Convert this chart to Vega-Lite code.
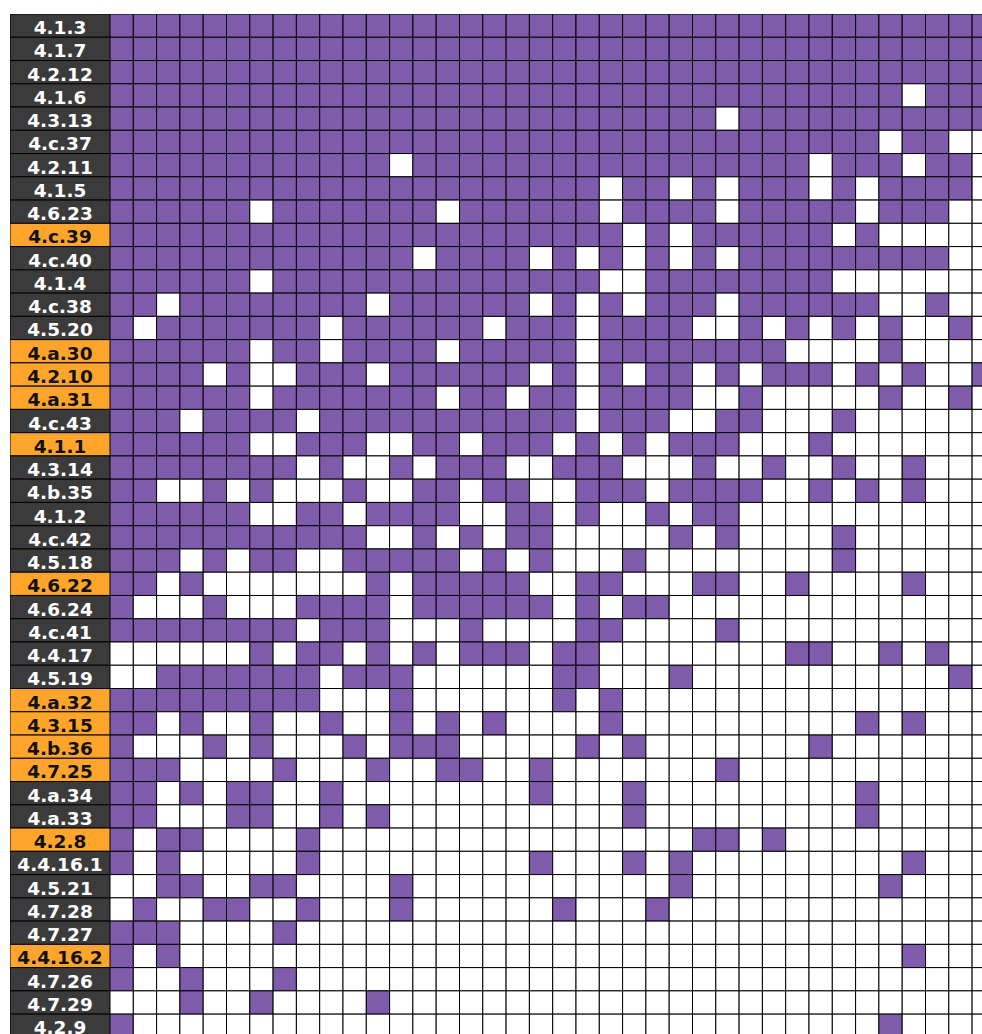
{
"$schema":"https://vega.github.io/schema/vega-lite/v6.json",
"autosize":{"type":"pad"},
"padding":{"left":10,"top":14,"right":0,"bottom":0},
"background":"white",
"spacing":0,
"config":{"view":{"stroke":null},"concat":{"spacing":0}},
"resolve":{"scale":{"fill":"independent","color":"independent","y":"independent"}},
"datasets":{
"labels":[
{"r":0,"t":"4.1.3","g":"d"},{"r":1,"t":"4.1.7","g":"d"},{"r":2,"t":"4.2.12","g":"d"},{"r":3,"t":"4.1.6","g":"d"},{"r":4,"t":"4.3.13","g":"d"},{"r":5,"t":"4.c.37","g":"d"},{"r":6,"t":"4.2.11","g":"d"},{"r":7,"t":"4.1.5","g":"d"},{"r":8,"t":"4.6.23","g":"d"},{"r":9,"t":"4.c.39","g":"o"},
{"r":10,"t":"4.c.40","g":"d"},{"r":11,"t":"4.1.4","g":"d"},{"r":12,"t":"4.c.38","g":"d"},{"r":13,"t":"4.5.20","g":"d"},{"r":14,"t":"4.a.30","g":"o"},{"r":15,"t":"4.2.10","g":"o"},{"r":16,"t":"4.a.31","g":"o"},{"r":17,"t":"4.c.43","g":"d"},{"r":18,"t":"4.1.1","g":"o"},{"r":19,"t":"4.3.14","g":"d"},
{"r":20,"t":"4.b.35","g":"d"},{"r":21,"t":"4.1.2","g":"d"},{"r":22,"t":"4.c.42","g":"d"},{"r":23,"t":"4.5.18","g":"d"},{"r":24,"t":"4.6.22","g":"o"},{"r":25,"t":"4.6.24","g":"d"},{"r":26,"t":"4.c.41","g":"d"},{"r":27,"t":"4.4.17","g":"d"},{"r":28,"t":"4.5.19","g":"d"},{"r":29,"t":"4.a.32","g":"o"},
{"r":30,"t":"4.3.15","g":"o"},{"r":31,"t":"4.b.36","g":"o"},{"r":32,"t":"4.7.25","g":"o"},{"r":33,"t":"4.a.34","g":"d"},{"r":34,"t":"4.a.33","g":"d"},{"r":35,"t":"4.2.8","g":"o"},{"r":36,"t":"4.4.16.1","g":"d"},{"r":37,"t":"4.5.21","g":"d"},{"r":38,"t":"4.7.28","g":"d"},{"r":39,"t":"4.7.27","g":"d"},
{"r":40,"t":"4.4.16.2","g":"o"},{"r":41,"t":"4.7.26","g":"d"},{"r":42,"t":"4.7.29","g":"d"},{"r":43,"t":"4.2.9","g":"d"}
],
"cells":[
{"r":0,"c":0,"v":1},{"r":0,"c":1,"v":1},{"r":0,"c":2,"v":1},{"r":0,"c":3,"v":1},{"r":0,"c":4,"v":1},{"r":0,"c":5,"v":1},{"r":0,"c":6,"v":1},{"r":0,"c":7,"v":1},{"r":0,"c":8,"v":1},{"r":0,"c":9,"v":1},{"r":0,"c":10,"v":1},{"r":0,"c":11,"v":1},{"r":0,"c":12,"v":1},{"r":0,"c":13,"v":1},{"r":0,"c":14,"v":1},{"r":0,"c":15,"v":1},{"r":0,"c":16,"v":1},{"r":0,"c":17,"v":1},{"r":0,"c":18,"v":1},{"r":0,"c":19,"v":1},{"r":0,"c":20,"v":1},{"r":0,"c":21,"v":1},{"r":0,"c":22,"v":1},{"r":0,"c":23,"v":1},{"r":0,"c":24,"v":1},{"r":0,"c":25,"v":1},{"r":0,"c":26,"v":1},{"r":0,"c":27,"v":1},{"r":0,"c":28,"v":1},{"r":0,"c":29,"v":1},{"r":0,"c":30,"v":1},{"r":0,"c":31,"v":1},{"r":0,"c":32,"v":1},{"r":0,"c":33,"v":1},{"r":0,"c":34,"v":1},{"r":0,"c":35,"v":1},{"r":0,"c":36,"v":1},{"r":0,"c":37,"v":1},
{"r":1,"c":0,"v":1},{"r":1,"c":1,"v":1},{"r":1,"c":2,"v":1},{"r":1,"c":3,"v":1},{"r":1,"c":4,"v":1},{"r":1,"c":5,"v":1},{"r":1,"c":6,"v":1},{"r":1,"c":7,"v":1},{"r":1,"c":8,"v":1},{"r":1,"c":9,"v":1},{"r":1,"c":10,"v":1},{"r":1,"c":11,"v":1},{"r":1,"c":12,"v":1},{"r":1,"c":13,"v":1},{"r":1,"c":14,"v":1},{"r":1,"c":15,"v":1},{"r":1,"c":16,"v":1},{"r":1,"c":17,"v":1},{"r":1,"c":18,"v":1},{"r":1,"c":19,"v":1},{"r":1,"c":20,"v":1},{"r":1,"c":21,"v":1},{"r":1,"c":22,"v":1},{"r":1,"c":23,"v":1},{"r":1,"c":24,"v":1},{"r":1,"c":25,"v":1},{"r":1,"c":26,"v":1},{"r":1,"c":27,"v":1},{"r":1,"c":28,"v":1},{"r":1,"c":29,"v":1},{"r":1,"c":30,"v":1},{"r":1,"c":31,"v":1},{"r":1,"c":32,"v":1},{"r":1,"c":33,"v":1},{"r":1,"c":34,"v":1},{"r":1,"c":35,"v":1},{"r":1,"c":36,"v":1},{"r":1,"c":37,"v":1},
{"r":2,"c":0,"v":1},{"r":2,"c":1,"v":1},{"r":2,"c":2,"v":1},{"r":2,"c":3,"v":1},{"r":2,"c":4,"v":1},{"r":2,"c":5,"v":1},{"r":2,"c":6,"v":1},{"r":2,"c":7,"v":1},{"r":2,"c":8,"v":1},{"r":2,"c":9,"v":1},{"r":2,"c":10,"v":1},{"r":2,"c":11,"v":1},{"r":2,"c":12,"v":1},{"r":2,"c":13,"v":1},{"r":2,"c":14,"v":1},{"r":2,"c":15,"v":1},{"r":2,"c":16,"v":1},{"r":2,"c":17,"v":1},{"r":2,"c":18,"v":1},{"r":2,"c":19,"v":1},{"r":2,"c":20,"v":1},{"r":2,"c":21,"v":1},{"r":2,"c":22,"v":1},{"r":2,"c":23,"v":1},{"r":2,"c":24,"v":1},{"r":2,"c":25,"v":1},{"r":2,"c":26,"v":1},{"r":2,"c":27,"v":1},{"r":2,"c":28,"v":1},{"r":2,"c":29,"v":1},{"r":2,"c":30,"v":1},{"r":2,"c":31,"v":1},{"r":2,"c":32,"v":1},{"r":2,"c":33,"v":1},{"r":2,"c":34,"v":1},{"r":2,"c":35,"v":1},{"r":2,"c":36,"v":1},{"r":2,"c":37,"v":1},
{"r":3,"c":0,"v":1},{"r":3,"c":1,"v":1},{"r":3,"c":2,"v":1},{"r":3,"c":3,"v":1},{"r":3,"c":4,"v":1},{"r":3,"c":5,"v":1},{"r":3,"c":6,"v":1},{"r":3,"c":7,"v":1},{"r":3,"c":8,"v":1},{"r":3,"c":9,"v":1},{"r":3,"c":10,"v":1},{"r":3,"c":11,"v":1},{"r":3,"c":12,"v":1},{"r":3,"c":13,"v":1},{"r":3,"c":14,"v":1},{"r":3,"c":15,"v":1},{"r":3,"c":16,"v":1},{"r":3,"c":17,"v":1},{"r":3,"c":18,"v":1},{"r":3,"c":19,"v":1},{"r":3,"c":20,"v":1},{"r":3,"c":21,"v":1},{"r":3,"c":22,"v":1},{"r":3,"c":23,"v":1},{"r":3,"c":24,"v":1},{"r":3,"c":25,"v":1},{"r":3,"c":26,"v":1},{"r":3,"c":27,"v":1},{"r":3,"c":28,"v":1},{"r":3,"c":29,"v":1},{"r":3,"c":30,"v":1},{"r":3,"c":31,"v":1},{"r":3,"c":32,"v":1},{"r":3,"c":33,"v":1},{"r":3,"c":34,"v":0},{"r":3,"c":35,"v":1},{"r":3,"c":36,"v":1},{"r":3,"c":37,"v":1},
{"r":4,"c":0,"v":1},{"r":4,"c":1,"v":1},{"r":4,"c":2,"v":1},{"r":4,"c":3,"v":1},{"r":4,"c":4,"v":1},{"r":4,"c":5,"v":1},{"r":4,"c":6,"v":1},{"r":4,"c":7,"v":1},{"r":4,"c":8,"v":1},{"r":4,"c":9,"v":1},{"r":4,"c":10,"v":1},{"r":4,"c":11,"v":1},{"r":4,"c":12,"v":1},{"r":4,"c":13,"v":1},{"r":4,"c":14,"v":1},{"r":4,"c":15,"v":1},{"r":4,"c":16,"v":1},{"r":4,"c":17,"v":1},{"r":4,"c":18,"v":1},{"r":4,"c":19,"v":1},{"r":4,"c":20,"v":1},{"r":4,"c":21,"v":1},{"r":4,"c":22,"v":1},{"r":4,"c":23,"v":1},{"r":4,"c":24,"v":1},{"r":4,"c":25,"v":1},{"r":4,"c":26,"v":0},{"r":4,"c":27,"v":1},{"r":4,"c":28,"v":1},{"r":4,"c":29,"v":1},{"r":4,"c":30,"v":1},{"r":4,"c":31,"v":1},{"r":4,"c":32,"v":1},{"r":4,"c":33,"v":1},{"r":4,"c":34,"v":1},{"r":4,"c":35,"v":1},{"r":4,"c":36,"v":1},{"r":4,"c":37,"v":1},
{"r":5,"c":0,"v":1},{"r":5,"c":1,"v":1},{"r":5,"c":2,"v":1},{"r":5,"c":3,"v":1},{"r":5,"c":4,"v":1},{"r":5,"c":5,"v":1},{"r":5,"c":6,"v":1},{"r":5,"c":7,"v":1},{"r":5,"c":8,"v":1},{"r":5,"c":9,"v":1},{"r":5,"c":10,"v":1},{"r":5,"c":11,"v":1},{"r":5,"c":12,"v":1},{"r":5,"c":13,"v":1},{"r":5,"c":14,"v":1},{"r":5,"c":15,"v":1},{"r":5,"c":16,"v":1},{"r":5,"c":17,"v":1},{"r":5,"c":18,"v":1},{"r":5,"c":19,"v":1},{"r":5,"c":20,"v":1},{"r":5,"c":21,"v":1},{"r":5,"c":22,"v":1},{"r":5,"c":23,"v":1},{"r":5,"c":24,"v":1},{"r":5,"c":25,"v":1},{"r":5,"c":26,"v":1},{"r":5,"c":27,"v":1},{"r":5,"c":28,"v":1},{"r":5,"c":29,"v":1},{"r":5,"c":30,"v":1},{"r":5,"c":31,"v":1},{"r":5,"c":32,"v":1},{"r":5,"c":33,"v":0},{"r":5,"c":34,"v":1},{"r":5,"c":35,"v":1},{"r":5,"c":36,"v":0},{"r":5,"c":37,"v":0},
{"r":6,"c":0,"v":1},{"r":6,"c":1,"v":1},{"r":6,"c":2,"v":1},{"r":6,"c":3,"v":1},{"r":6,"c":4,"v":1},{"r":6,"c":5,"v":1},{"r":6,"c":6,"v":1},{"r":6,"c":7,"v":1},{"r":6,"c":8,"v":1},{"r":6,"c":9,"v":1},{"r":6,"c":10,"v":1},{"r":6,"c":11,"v":1},{"r":6,"c":12,"v":0},{"r":6,"c":13,"v":1},{"r":6,"c":14,"v":1},{"r":6,"c":15,"v":1},{"r":6,"c":16,"v":1},{"r":6,"c":17,"v":1},{"r":6,"c":18,"v":1},{"r":6,"c":19,"v":1},{"r":6,"c":20,"v":1},{"r":6,"c":21,"v":1},{"r":6,"c":22,"v":1},{"r":6,"c":23,"v":1},{"r":6,"c":24,"v":1},{"r":6,"c":25,"v":1},{"r":6,"c":26,"v":1},{"r":6,"c":27,"v":1},{"r":6,"c":28,"v":1},{"r":6,"c":29,"v":1},{"r":6,"c":30,"v":0},{"r":6,"c":31,"v":1},{"r":6,"c":32,"v":1},{"r":6,"c":33,"v":1},{"r":6,"c":34,"v":0},{"r":6,"c":35,"v":1},{"r":6,"c":36,"v":1},{"r":6,"c":37,"v":0},
{"r":7,"c":0,"v":1},{"r":7,"c":1,"v":1},{"r":7,"c":2,"v":1},{"r":7,"c":3,"v":1},{"r":7,"c":4,"v":1},{"r":7,"c":5,"v":1},{"r":7,"c":6,"v":1},{"r":7,"c":7,"v":1},{"r":7,"c":8,"v":1},{"r":7,"c":9,"v":1},{"r":7,"c":10,"v":1},{"r":7,"c":11,"v":1},{"r":7,"c":12,"v":1},{"r":7,"c":13,"v":1},{"r":7,"c":14,"v":1},{"r":7,"c":15,"v":1},{"r":7,"c":16,"v":1},{"r":7,"c":17,"v":1},{"r":7,"c":18,"v":1},{"r":7,"c":19,"v":1},{"r":7,"c":20,"v":1},{"r":7,"c":21,"v":0},{"r":7,"c":22,"v":1},{"r":7,"c":23,"v":1},{"r":7,"c":24,"v":0},{"r":7,"c":25,"v":1},{"r":7,"c":26,"v":0},{"r":7,"c":27,"v":1},{"r":7,"c":28,"v":1},{"r":7,"c":29,"v":1},{"r":7,"c":30,"v":0},{"r":7,"c":31,"v":1},{"r":7,"c":32,"v":0},{"r":7,"c":33,"v":1},{"r":7,"c":34,"v":1},{"r":7,"c":35,"v":1},{"r":7,"c":36,"v":1},{"r":7,"c":37,"v":0},
{"r":8,"c":0,"v":1},{"r":8,"c":1,"v":1},{"r":8,"c":2,"v":1},{"r":8,"c":3,"v":1},{"r":8,"c":4,"v":1},{"r":8,"c":5,"v":1},{"r":8,"c":6,"v":0},{"r":8,"c":7,"v":1},{"r":8,"c":8,"v":1},{"r":8,"c":9,"v":1},{"r":8,"c":10,"v":1},{"r":8,"c":11,"v":1},{"r":8,"c":12,"v":1},{"r":8,"c":13,"v":1},{"r":8,"c":14,"v":0},{"r":8,"c":15,"v":1},{"r":8,"c":16,"v":1},{"r":8,"c":17,"v":1},{"r":8,"c":18,"v":1},{"r":8,"c":19,"v":1},{"r":8,"c":20,"v":1},{"r":8,"c":21,"v":0},{"r":8,"c":22,"v":1},{"r":8,"c":23,"v":1},{"r":8,"c":24,"v":1},{"r":8,"c":25,"v":1},{"r":8,"c":26,"v":0},{"r":8,"c":27,"v":1},{"r":8,"c":28,"v":1},{"r":8,"c":29,"v":1},{"r":8,"c":30,"v":1},{"r":8,"c":31,"v":1},{"r":8,"c":32,"v":0},{"r":8,"c":33,"v":1},{"r":8,"c":34,"v":1},{"r":8,"c":35,"v":1},{"r":8,"c":36,"v":0},{"r":8,"c":37,"v":0},
{"r":9,"c":0,"v":1},{"r":9,"c":1,"v":1},{"r":9,"c":2,"v":1},{"r":9,"c":3,"v":1},{"r":9,"c":4,"v":1},{"r":9,"c":5,"v":1},{"r":9,"c":6,"v":1},{"r":9,"c":7,"v":1},{"r":9,"c":8,"v":1},{"r":9,"c":9,"v":1},{"r":9,"c":10,"v":1},{"r":9,"c":11,"v":1},{"r":9,"c":12,"v":1},{"r":9,"c":13,"v":1},{"r":9,"c":14,"v":1},{"r":9,"c":15,"v":1},{"r":9,"c":16,"v":1},{"r":9,"c":17,"v":1},{"r":9,"c":18,"v":1},{"r":9,"c":19,"v":1},{"r":9,"c":20,"v":1},{"r":9,"c":21,"v":1},{"r":9,"c":22,"v":0},{"r":9,"c":23,"v":1},{"r":9,"c":24,"v":0},{"r":9,"c":25,"v":1},{"r":9,"c":26,"v":1},{"r":9,"c":27,"v":1},{"r":9,"c":28,"v":1},{"r":9,"c":29,"v":1},{"r":9,"c":30,"v":1},{"r":9,"c":31,"v":0},{"r":9,"c":32,"v":1},{"r":9,"c":33,"v":0},{"r":9,"c":34,"v":0},{"r":9,"c":35,"v":0},{"r":9,"c":36,"v":0},{"r":9,"c":37,"v":0},
{"r":10,"c":0,"v":1},{"r":10,"c":1,"v":1},{"r":10,"c":2,"v":1},{"r":10,"c":3,"v":1},{"r":10,"c":4,"v":1},{"r":10,"c":5,"v":1},{"r":10,"c":6,"v":1},{"r":10,"c":7,"v":1},{"r":10,"c":8,"v":1},{"r":10,"c":9,"v":1},{"r":10,"c":10,"v":1},{"r":10,"c":11,"v":1},{"r":10,"c":12,"v":1},{"r":10,"c":13,"v":0},{"r":10,"c":14,"v":1},{"r":10,"c":15,"v":1},{"r":10,"c":16,"v":1},{"r":10,"c":17,"v":1},{"r":10,"c":18,"v":0},{"r":10,"c":19,"v":1},{"r":10,"c":20,"v":0},{"r":10,"c":21,"v":1},{"r":10,"c":22,"v":0},{"r":10,"c":23,"v":1},{"r":10,"c":24,"v":0},{"r":10,"c":25,"v":1},{"r":10,"c":26,"v":0},{"r":10,"c":27,"v":1},{"r":10,"c":28,"v":1},{"r":10,"c":29,"v":1},{"r":10,"c":30,"v":1},{"r":10,"c":31,"v":1},{"r":10,"c":32,"v":1},{"r":10,"c":33,"v":1},{"r":10,"c":34,"v":1},{"r":10,"c":35,"v":1},{"r":10,"c":36,"v":0},{"r":10,"c":37,"v":0},
{"r":11,"c":0,"v":1},{"r":11,"c":1,"v":1},{"r":11,"c":2,"v":1},{"r":11,"c":3,"v":1},{"r":11,"c":4,"v":1},{"r":11,"c":5,"v":1},{"r":11,"c":6,"v":0},{"r":11,"c":7,"v":1},{"r":11,"c":8,"v":1},{"r":11,"c":9,"v":1},{"r":11,"c":10,"v":1},{"r":11,"c":11,"v":1},{"r":11,"c":12,"v":1},{"r":11,"c":13,"v":1},{"r":11,"c":14,"v":1},{"r":11,"c":15,"v":1},{"r":11,"c":16,"v":1},{"r":11,"c":17,"v":1},{"r":11,"c":18,"v":1},{"r":11,"c":19,"v":1},{"r":11,"c":20,"v":1},{"r":11,"c":21,"v":0},{"r":11,"c":22,"v":0},{"r":11,"c":23,"v":1},{"r":11,"c":24,"v":1},{"r":11,"c":25,"v":1},{"r":11,"c":26,"v":1},{"r":11,"c":27,"v":1},{"r":11,"c":28,"v":1},{"r":11,"c":29,"v":1},{"r":11,"c":30,"v":1},{"r":11,"c":31,"v":0},{"r":11,"c":32,"v":0},{"r":11,"c":33,"v":0},{"r":11,"c":34,"v":0},{"r":11,"c":35,"v":0},{"r":11,"c":36,"v":0},{"r":11,"c":37,"v":0},
{"r":12,"c":0,"v":1},{"r":12,"c":1,"v":1},{"r":12,"c":2,"v":0},{"r":12,"c":3,"v":1},{"r":12,"c":4,"v":1},{"r":12,"c":5,"v":1},{"r":12,"c":6,"v":1},{"r":12,"c":7,"v":1},{"r":12,"c":8,"v":1},{"r":12,"c":9,"v":1},{"r":12,"c":10,"v":1},{"r":12,"c":11,"v":0},{"r":12,"c":12,"v":1},{"r":12,"c":13,"v":1},{"r":12,"c":14,"v":1},{"r":12,"c":15,"v":1},{"r":12,"c":16,"v":1},{"r":12,"c":17,"v":1},{"r":12,"c":18,"v":0},{"r":12,"c":19,"v":1},{"r":12,"c":20,"v":0},{"r":12,"c":21,"v":1},{"r":12,"c":22,"v":0},{"r":12,"c":23,"v":1},{"r":12,"c":24,"v":1},{"r":12,"c":25,"v":1},{"r":12,"c":26,"v":0},{"r":12,"c":27,"v":1},{"r":12,"c":28,"v":1},{"r":12,"c":29,"v":1},{"r":12,"c":30,"v":1},{"r":12,"c":31,"v":1},{"r":12,"c":32,"v":1},{"r":12,"c":33,"v":0},{"r":12,"c":34,"v":0},{"r":12,"c":35,"v":1},{"r":12,"c":36,"v":0},{"r":12,"c":37,"v":0},
{"r":13,"c":0,"v":1},{"r":13,"c":1,"v":0},{"r":13,"c":2,"v":1},{"r":13,"c":3,"v":1},{"r":13,"c":4,"v":1},{"r":13,"c":5,"v":1},{"r":13,"c":6,"v":1},{"r":13,"c":7,"v":1},{"r":13,"c":8,"v":1},{"r":13,"c":9,"v":0},{"r":13,"c":10,"v":1},{"r":13,"c":11,"v":1},{"r":13,"c":12,"v":1},{"r":13,"c":13,"v":1},{"r":13,"c":14,"v":1},{"r":13,"c":15,"v":1},{"r":13,"c":16,"v":0},{"r":13,"c":17,"v":1},{"r":13,"c":18,"v":1},{"r":13,"c":19,"v":1},{"r":13,"c":20,"v":0},{"r":13,"c":21,"v":1},{"r":13,"c":22,"v":1},{"r":13,"c":23,"v":1},{"r":13,"c":24,"v":1},{"r":13,"c":25,"v":0},{"r":13,"c":26,"v":0},{"r":13,"c":27,"v":1},{"r":13,"c":28,"v":0},{"r":13,"c":29,"v":1},{"r":13,"c":30,"v":0},{"r":13,"c":31,"v":1},{"r":13,"c":32,"v":0},{"r":13,"c":33,"v":1},{"r":13,"c":34,"v":0},{"r":13,"c":35,"v":0},{"r":13,"c":36,"v":1},{"r":13,"c":37,"v":0},
{"r":14,"c":0,"v":1},{"r":14,"c":1,"v":1},{"r":14,"c":2,"v":1},{"r":14,"c":3,"v":1},{"r":14,"c":4,"v":1},{"r":14,"c":5,"v":1},{"r":14,"c":6,"v":0},{"r":14,"c":7,"v":1},{"r":14,"c":8,"v":1},{"r":14,"c":9,"v":0},{"r":14,"c":10,"v":1},{"r":14,"c":11,"v":1},{"r":14,"c":12,"v":1},{"r":14,"c":13,"v":1},{"r":14,"c":14,"v":0},{"r":14,"c":15,"v":1},{"r":14,"c":16,"v":1},{"r":14,"c":17,"v":1},{"r":14,"c":18,"v":1},{"r":14,"c":19,"v":1},{"r":14,"c":20,"v":0},{"r":14,"c":21,"v":1},{"r":14,"c":22,"v":1},{"r":14,"c":23,"v":1},{"r":14,"c":24,"v":1},{"r":14,"c":25,"v":1},{"r":14,"c":26,"v":1},{"r":14,"c":27,"v":1},{"r":14,"c":28,"v":1},{"r":14,"c":29,"v":0},{"r":14,"c":30,"v":0},{"r":14,"c":31,"v":0},{"r":14,"c":32,"v":0},{"r":14,"c":33,"v":1},{"r":14,"c":34,"v":0},{"r":14,"c":35,"v":0},{"r":14,"c":36,"v":0},{"r":14,"c":37,"v":0},
{"r":15,"c":0,"v":1},{"r":15,"c":1,"v":1},{"r":15,"c":2,"v":1},{"r":15,"c":3,"v":1},{"r":15,"c":4,"v":0},{"r":15,"c":5,"v":1},{"r":15,"c":6,"v":0},{"r":15,"c":7,"v":0},{"r":15,"c":8,"v":1},{"r":15,"c":9,"v":1},{"r":15,"c":10,"v":1},{"r":15,"c":11,"v":0},{"r":15,"c":12,"v":1},{"r":15,"c":13,"v":1},{"r":15,"c":14,"v":1},{"r":15,"c":15,"v":1},{"r":15,"c":16,"v":1},{"r":15,"c":17,"v":1},{"r":15,"c":18,"v":0},{"r":15,"c":19,"v":1},{"r":15,"c":20,"v":0},{"r":15,"c":21,"v":1},{"r":15,"c":22,"v":0},{"r":15,"c":23,"v":1},{"r":15,"c":24,"v":1},{"r":15,"c":25,"v":0},{"r":15,"c":26,"v":1},{"r":15,"c":27,"v":0},{"r":15,"c":28,"v":1},{"r":15,"c":29,"v":1},{"r":15,"c":30,"v":1},{"r":15,"c":31,"v":0},{"r":15,"c":32,"v":1},{"r":15,"c":33,"v":0},{"r":15,"c":34,"v":1},{"r":15,"c":35,"v":0},{"r":15,"c":36,"v":0},{"r":15,"c":37,"v":1},
{"r":16,"c":0,"v":1},{"r":16,"c":1,"v":1},{"r":16,"c":2,"v":1},{"r":16,"c":3,"v":1},{"r":16,"c":4,"v":1},{"r":16,"c":5,"v":1},{"r":16,"c":6,"v":0},{"r":16,"c":7,"v":1},{"r":16,"c":8,"v":1},{"r":16,"c":9,"v":1},{"r":16,"c":10,"v":1},{"r":16,"c":11,"v":1},{"r":16,"c":12,"v":1},{"r":16,"c":13,"v":1},{"r":16,"c":14,"v":0},{"r":16,"c":15,"v":1},{"r":16,"c":16,"v":1},{"r":16,"c":17,"v":0},{"r":16,"c":18,"v":1},{"r":16,"c":19,"v":1},{"r":16,"c":20,"v":0},{"r":16,"c":21,"v":1},{"r":16,"c":22,"v":1},{"r":16,"c":23,"v":1},{"r":16,"c":24,"v":1},{"r":16,"c":25,"v":0},{"r":16,"c":26,"v":0},{"r":16,"c":27,"v":1},{"r":16,"c":28,"v":0},{"r":16,"c":29,"v":0},{"r":16,"c":30,"v":0},{"r":16,"c":31,"v":0},{"r":16,"c":32,"v":0},{"r":16,"c":33,"v":1},{"r":16,"c":34,"v":0},{"r":16,"c":35,"v":0},{"r":16,"c":36,"v":1},{"r":16,"c":37,"v":0},
{"r":17,"c":0,"v":1},{"r":17,"c":1,"v":1},{"r":17,"c":2,"v":1},{"r":17,"c":3,"v":0},{"r":17,"c":4,"v":1},{"r":17,"c":5,"v":1},{"r":17,"c":6,"v":1},{"r":17,"c":7,"v":1},{"r":17,"c":8,"v":0},{"r":17,"c":9,"v":1},{"r":17,"c":10,"v":1},{"r":17,"c":11,"v":1},{"r":17,"c":12,"v":1},{"r":17,"c":13,"v":1},{"r":17,"c":14,"v":1},{"r":17,"c":15,"v":1},{"r":17,"c":16,"v":1},{"r":17,"c":17,"v":1},{"r":17,"c":18,"v":1},{"r":17,"c":19,"v":1},{"r":17,"c":20,"v":0},{"r":17,"c":21,"v":1},{"r":17,"c":22,"v":1},{"r":17,"c":23,"v":1},{"r":17,"c":24,"v":0},{"r":17,"c":25,"v":0},{"r":17,"c":26,"v":1},{"r":17,"c":27,"v":1},{"r":17,"c":28,"v":0},{"r":17,"c":29,"v":0},{"r":17,"c":30,"v":0},{"r":17,"c":31,"v":1},{"r":17,"c":32,"v":0},{"r":17,"c":33,"v":0},{"r":17,"c":34,"v":0},{"r":17,"c":35,"v":0},{"r":17,"c":36,"v":0},{"r":17,"c":37,"v":0},
{"r":18,"c":0,"v":1},{"r":18,"c":1,"v":1},{"r":18,"c":2,"v":1},{"r":18,"c":3,"v":1},{"r":18,"c":4,"v":1},{"r":18,"c":5,"v":1},{"r":18,"c":6,"v":0},{"r":18,"c":7,"v":0},{"r":18,"c":8,"v":1},{"r":18,"c":9,"v":1},{"r":18,"c":10,"v":1},{"r":18,"c":11,"v":0},{"r":18,"c":12,"v":0},{"r":18,"c":13,"v":1},{"r":18,"c":14,"v":1},{"r":18,"c":15,"v":0},{"r":18,"c":16,"v":1},{"r":18,"c":17,"v":1},{"r":18,"c":18,"v":1},{"r":18,"c":19,"v":0},{"r":18,"c":20,"v":1},{"r":18,"c":21,"v":0},{"r":18,"c":22,"v":1},{"r":18,"c":23,"v":0},{"r":18,"c":24,"v":1},{"r":18,"c":25,"v":1},{"r":18,"c":26,"v":1},{"r":18,"c":27,"v":0},{"r":18,"c":28,"v":0},{"r":18,"c":29,"v":0},{"r":18,"c":30,"v":1},{"r":18,"c":31,"v":0},{"r":18,"c":32,"v":0},{"r":18,"c":33,"v":0},{"r":18,"c":34,"v":0},{"r":18,"c":35,"v":0},{"r":18,"c":36,"v":0},{"r":18,"c":37,"v":0},
{"r":19,"c":0,"v":1},{"r":19,"c":1,"v":1},{"r":19,"c":2,"v":1},{"r":19,"c":3,"v":1},{"r":19,"c":4,"v":1},{"r":19,"c":5,"v":1},{"r":19,"c":6,"v":1},{"r":19,"c":7,"v":1},{"r":19,"c":8,"v":0},{"r":19,"c":9,"v":1},{"r":19,"c":10,"v":0},{"r":19,"c":11,"v":0},{"r":19,"c":12,"v":1},{"r":19,"c":13,"v":0},{"r":19,"c":14,"v":1},{"r":19,"c":15,"v":1},{"r":19,"c":16,"v":1},{"r":19,"c":17,"v":0},{"r":19,"c":18,"v":0},{"r":19,"c":19,"v":1},{"r":19,"c":20,"v":1},{"r":19,"c":21,"v":1},{"r":19,"c":22,"v":0},{"r":19,"c":23,"v":0},{"r":19,"c":24,"v":0},{"r":19,"c":25,"v":1},{"r":19,"c":26,"v":0},{"r":19,"c":27,"v":0},{"r":19,"c":28,"v":1},{"r":19,"c":29,"v":0},{"r":19,"c":30,"v":0},{"r":19,"c":31,"v":1},{"r":19,"c":32,"v":0},{"r":19,"c":33,"v":0},{"r":19,"c":34,"v":1},{"r":19,"c":35,"v":0},{"r":19,"c":36,"v":0},{"r":19,"c":37,"v":0},
{"r":20,"c":0,"v":1},{"r":20,"c":1,"v":1},{"r":20,"c":2,"v":0},{"r":20,"c":3,"v":0},{"r":20,"c":4,"v":1},{"r":20,"c":5,"v":0},{"r":20,"c":6,"v":1},{"r":20,"c":7,"v":0},{"r":20,"c":8,"v":0},{"r":20,"c":9,"v":0},{"r":20,"c":10,"v":1},{"r":20,"c":11,"v":0},{"r":20,"c":12,"v":0},{"r":20,"c":13,"v":1},{"r":20,"c":14,"v":1},{"r":20,"c":15,"v":0},{"r":20,"c":16,"v":1},{"r":20,"c":17,"v":1},{"r":20,"c":18,"v":0},{"r":20,"c":19,"v":0},{"r":20,"c":20,"v":1},{"r":20,"c":21,"v":1},{"r":20,"c":22,"v":1},{"r":20,"c":23,"v":0},{"r":20,"c":24,"v":1},{"r":20,"c":25,"v":1},{"r":20,"c":26,"v":1},{"r":20,"c":27,"v":1},{"r":20,"c":28,"v":0},{"r":20,"c":29,"v":0},{"r":20,"c":30,"v":1},{"r":20,"c":31,"v":0},{"r":20,"c":32,"v":1},{"r":20,"c":33,"v":0},{"r":20,"c":34,"v":1},{"r":20,"c":35,"v":0},{"r":20,"c":36,"v":0},{"r":20,"c":37,"v":0},
{"r":21,"c":0,"v":1},{"r":21,"c":1,"v":1},{"r":21,"c":2,"v":1},{"r":21,"c":3,"v":1},{"r":21,"c":4,"v":1},{"r":21,"c":5,"v":1},{"r":21,"c":6,"v":0},{"r":21,"c":7,"v":0},{"r":21,"c":8,"v":1},{"r":21,"c":9,"v":1},{"r":21,"c":10,"v":0},{"r":21,"c":11,"v":1},{"r":21,"c":12,"v":1},{"r":21,"c":13,"v":1},{"r":21,"c":14,"v":1},{"r":21,"c":15,"v":0},{"r":21,"c":16,"v":0},{"r":21,"c":17,"v":1},{"r":21,"c":18,"v":1},{"r":21,"c":19,"v":0},{"r":21,"c":20,"v":1},{"r":21,"c":21,"v":0},{"r":21,"c":22,"v":0},{"r":21,"c":23,"v":1},{"r":21,"c":24,"v":0},{"r":21,"c":25,"v":1},{"r":21,"c":26,"v":1},{"r":21,"c":27,"v":0},{"r":21,"c":28,"v":0},{"r":21,"c":29,"v":0},{"r":21,"c":30,"v":0},{"r":21,"c":31,"v":0},{"r":21,"c":32,"v":0},{"r":21,"c":33,"v":0},{"r":21,"c":34,"v":0},{"r":21,"c":35,"v":0},{"r":21,"c":36,"v":0},{"r":21,"c":37,"v":0},
{"r":22,"c":0,"v":1},{"r":22,"c":1,"v":1},{"r":22,"c":2,"v":1},{"r":22,"c":3,"v":1},{"r":22,"c":4,"v":1},{"r":22,"c":5,"v":1},{"r":22,"c":6,"v":1},{"r":22,"c":7,"v":1},{"r":22,"c":8,"v":1},{"r":22,"c":9,"v":1},{"r":22,"c":10,"v":1},{"r":22,"c":11,"v":0},{"r":22,"c":12,"v":0},{"r":22,"c":13,"v":1},{"r":22,"c":14,"v":0},{"r":22,"c":15,"v":1},{"r":22,"c":16,"v":0},{"r":22,"c":17,"v":1},{"r":22,"c":18,"v":1},{"r":22,"c":19,"v":0},{"r":22,"c":20,"v":0},{"r":22,"c":21,"v":0},{"r":22,"c":22,"v":0},{"r":22,"c":23,"v":0},{"r":22,"c":24,"v":1},{"r":22,"c":25,"v":0},{"r":22,"c":26,"v":1},{"r":22,"c":27,"v":0},{"r":22,"c":28,"v":0},{"r":22,"c":29,"v":0},{"r":22,"c":30,"v":0},{"r":22,"c":31,"v":1},{"r":22,"c":32,"v":0},{"r":22,"c":33,"v":0},{"r":22,"c":34,"v":0},{"r":22,"c":35,"v":0},{"r":22,"c":36,"v":0},{"r":22,"c":37,"v":0},
{"r":23,"c":0,"v":1},{"r":23,"c":1,"v":1},{"r":23,"c":2,"v":1},{"r":23,"c":3,"v":0},{"r":23,"c":4,"v":1},{"r":23,"c":5,"v":0},{"r":23,"c":6,"v":1},{"r":23,"c":7,"v":1},{"r":23,"c":8,"v":0},{"r":23,"c":9,"v":0},{"r":23,"c":10,"v":1},{"r":23,"c":11,"v":1},{"r":23,"c":12,"v":1},{"r":23,"c":13,"v":1},{"r":23,"c":14,"v":1},{"r":23,"c":15,"v":0},{"r":23,"c":16,"v":1},{"r":23,"c":17,"v":0},{"r":23,"c":18,"v":1},{"r":23,"c":19,"v":0},{"r":23,"c":20,"v":0},{"r":23,"c":21,"v":0},{"r":23,"c":22,"v":1},{"r":23,"c":23,"v":0},{"r":23,"c":24,"v":0},{"r":23,"c":25,"v":0},{"r":23,"c":26,"v":0},{"r":23,"c":27,"v":0},{"r":23,"c":28,"v":0},{"r":23,"c":29,"v":0},{"r":23,"c":30,"v":0},{"r":23,"c":31,"v":1},{"r":23,"c":32,"v":0},{"r":23,"c":33,"v":0},{"r":23,"c":34,"v":0},{"r":23,"c":35,"v":0},{"r":23,"c":36,"v":0},{"r":23,"c":37,"v":0},
{"r":24,"c":0,"v":1},{"r":24,"c":1,"v":1},{"r":24,"c":2,"v":0},{"r":24,"c":3,"v":1},{"r":24,"c":4,"v":0},{"r":24,"c":5,"v":0},{"r":24,"c":6,"v":0},{"r":24,"c":7,"v":0},{"r":24,"c":8,"v":0},{"r":24,"c":9,"v":0},{"r":24,"c":10,"v":0},{"r":24,"c":11,"v":1},{"r":24,"c":12,"v":0},{"r":24,"c":13,"v":1},{"r":24,"c":14,"v":1},{"r":24,"c":15,"v":1},{"r":24,"c":16,"v":1},{"r":24,"c":17,"v":1},{"r":24,"c":18,"v":0},{"r":24,"c":19,"v":0},{"r":24,"c":20,"v":1},{"r":24,"c":21,"v":1},{"r":24,"c":22,"v":0},{"r":24,"c":23,"v":0},{"r":24,"c":24,"v":0},{"r":24,"c":25,"v":1},{"r":24,"c":26,"v":1},{"r":24,"c":27,"v":0},{"r":24,"c":28,"v":0},{"r":24,"c":29,"v":1},{"r":24,"c":30,"v":0},{"r":24,"c":31,"v":0},{"r":24,"c":32,"v":0},{"r":24,"c":33,"v":0},{"r":24,"c":34,"v":1},{"r":24,"c":35,"v":0},{"r":24,"c":36,"v":0},{"r":24,"c":37,"v":0},
{"r":25,"c":0,"v":1},{"r":25,"c":1,"v":0},{"r":25,"c":2,"v":0},{"r":25,"c":3,"v":0},{"r":25,"c":4,"v":1},{"r":25,"c":5,"v":0},{"r":25,"c":6,"v":0},{"r":25,"c":7,"v":0},{"r":25,"c":8,"v":1},{"r":25,"c":9,"v":1},{"r":25,"c":10,"v":1},{"r":25,"c":11,"v":1},{"r":25,"c":12,"v":0},{"r":25,"c":13,"v":1},{"r":25,"c":14,"v":1},{"r":25,"c":15,"v":1},{"r":25,"c":16,"v":1},{"r":25,"c":17,"v":1},{"r":25,"c":18,"v":1},{"r":25,"c":19,"v":0},{"r":25,"c":20,"v":1},{"r":25,"c":21,"v":0},{"r":25,"c":22,"v":1},{"r":25,"c":23,"v":1},{"r":25,"c":24,"v":0},{"r":25,"c":25,"v":0},{"r":25,"c":26,"v":0},{"r":25,"c":27,"v":0},{"r":25,"c":28,"v":0},{"r":25,"c":29,"v":0},{"r":25,"c":30,"v":0},{"r":25,"c":31,"v":0},{"r":25,"c":32,"v":0},{"r":25,"c":33,"v":0},{"r":25,"c":34,"v":0},{"r":25,"c":35,"v":0},{"r":25,"c":36,"v":0},{"r":25,"c":37,"v":0},
{"r":26,"c":0,"v":1},{"r":26,"c":1,"v":1},{"r":26,"c":2,"v":1},{"r":26,"c":3,"v":1},{"r":26,"c":4,"v":1},{"r":26,"c":5,"v":1},{"r":26,"c":6,"v":1},{"r":26,"c":7,"v":1},{"r":26,"c":8,"v":0},{"r":26,"c":9,"v":1},{"r":26,"c":10,"v":1},{"r":26,"c":11,"v":1},{"r":26,"c":12,"v":0},{"r":26,"c":13,"v":0},{"r":26,"c":14,"v":0},{"r":26,"c":15,"v":1},{"r":26,"c":16,"v":0},{"r":26,"c":17,"v":0},{"r":26,"c":18,"v":0},{"r":26,"c":19,"v":0},{"r":26,"c":20,"v":1},{"r":26,"c":21,"v":1},{"r":26,"c":22,"v":0},{"r":26,"c":23,"v":0},{"r":26,"c":24,"v":0},{"r":26,"c":25,"v":0},{"r":26,"c":26,"v":1},{"r":26,"c":27,"v":0},{"r":26,"c":28,"v":0},{"r":26,"c":29,"v":0},{"r":26,"c":30,"v":0},{"r":26,"c":31,"v":0},{"r":26,"c":32,"v":0},{"r":26,"c":33,"v":0},{"r":26,"c":34,"v":0},{"r":26,"c":35,"v":0},{"r":26,"c":36,"v":0},{"r":26,"c":37,"v":0},
{"r":27,"c":0,"v":0},{"r":27,"c":1,"v":0},{"r":27,"c":2,"v":0},{"r":27,"c":3,"v":0},{"r":27,"c":4,"v":0},{"r":27,"c":5,"v":0},{"r":27,"c":6,"v":1},{"r":27,"c":7,"v":0},{"r":27,"c":8,"v":1},{"r":27,"c":9,"v":1},{"r":27,"c":10,"v":0},{"r":27,"c":11,"v":1},{"r":27,"c":12,"v":0},{"r":27,"c":13,"v":1},{"r":27,"c":14,"v":0},{"r":27,"c":15,"v":1},{"r":27,"c":16,"v":1},{"r":27,"c":17,"v":1},{"r":27,"c":18,"v":0},{"r":27,"c":19,"v":1},{"r":27,"c":20,"v":1},{"r":27,"c":21,"v":0},{"r":27,"c":22,"v":0},{"r":27,"c":23,"v":0},{"r":27,"c":24,"v":0},{"r":27,"c":25,"v":0},{"r":27,"c":26,"v":0},{"r":27,"c":27,"v":0},{"r":27,"c":28,"v":0},{"r":27,"c":29,"v":1},{"r":27,"c":30,"v":1},{"r":27,"c":31,"v":0},{"r":27,"c":32,"v":0},{"r":27,"c":33,"v":1},{"r":27,"c":34,"v":0},{"r":27,"c":35,"v":1},{"r":27,"c":36,"v":0},{"r":27,"c":37,"v":0},
{"r":28,"c":0,"v":0},{"r":28,"c":1,"v":0},{"r":28,"c":2,"v":1},{"r":28,"c":3,"v":1},{"r":28,"c":4,"v":1},{"r":28,"c":5,"v":1},{"r":28,"c":6,"v":1},{"r":28,"c":7,"v":1},{"r":28,"c":8,"v":1},{"r":28,"c":9,"v":0},{"r":28,"c":10,"v":1},{"r":28,"c":11,"v":1},{"r":28,"c":12,"v":1},{"r":28,"c":13,"v":0},{"r":28,"c":14,"v":0},{"r":28,"c":15,"v":0},{"r":28,"c":16,"v":0},{"r":28,"c":17,"v":0},{"r":28,"c":18,"v":0},{"r":28,"c":19,"v":1},{"r":28,"c":20,"v":1},{"r":28,"c":21,"v":0},{"r":28,"c":22,"v":0},{"r":28,"c":23,"v":0},{"r":28,"c":24,"v":1},{"r":28,"c":25,"v":0},{"r":28,"c":26,"v":0},{"r":28,"c":27,"v":0},{"r":28,"c":28,"v":0},{"r":28,"c":29,"v":0},{"r":28,"c":30,"v":0},{"r":28,"c":31,"v":0},{"r":28,"c":32,"v":0},{"r":28,"c":33,"v":0},{"r":28,"c":34,"v":0},{"r":28,"c":35,"v":0},{"r":28,"c":36,"v":1},{"r":28,"c":37,"v":0},
{"r":29,"c":0,"v":1},{"r":29,"c":1,"v":1},{"r":29,"c":2,"v":1},{"r":29,"c":3,"v":1},{"r":29,"c":4,"v":1},{"r":29,"c":5,"v":1},{"r":29,"c":6,"v":1},{"r":29,"c":7,"v":1},{"r":29,"c":8,"v":1},{"r":29,"c":9,"v":0},{"r":29,"c":10,"v":0},{"r":29,"c":11,"v":0},{"r":29,"c":12,"v":1},{"r":29,"c":13,"v":0},{"r":29,"c":14,"v":0},{"r":29,"c":15,"v":0},{"r":29,"c":16,"v":0},{"r":29,"c":17,"v":0},{"r":29,"c":18,"v":0},{"r":29,"c":19,"v":1},{"r":29,"c":20,"v":0},{"r":29,"c":21,"v":1},{"r":29,"c":22,"v":0},{"r":29,"c":23,"v":0},{"r":29,"c":24,"v":0},{"r":29,"c":25,"v":0},{"r":29,"c":26,"v":0},{"r":29,"c":27,"v":0},{"r":29,"c":28,"v":0},{"r":29,"c":29,"v":0},{"r":29,"c":30,"v":0},{"r":29,"c":31,"v":0},{"r":29,"c":32,"v":0},{"r":29,"c":33,"v":0},{"r":29,"c":34,"v":0},{"r":29,"c":35,"v":0},{"r":29,"c":36,"v":0},{"r":29,"c":37,"v":0},
{"r":30,"c":0,"v":1},{"r":30,"c":1,"v":1},{"r":30,"c":2,"v":0},{"r":30,"c":3,"v":1},{"r":30,"c":4,"v":0},{"r":30,"c":5,"v":0},{"r":30,"c":6,"v":1},{"r":30,"c":7,"v":0},{"r":30,"c":8,"v":0},{"r":30,"c":9,"v":1},{"r":30,"c":10,"v":0},{"r":30,"c":11,"v":0},{"r":30,"c":12,"v":1},{"r":30,"c":13,"v":0},{"r":30,"c":14,"v":1},{"r":30,"c":15,"v":0},{"r":30,"c":16,"v":1},{"r":30,"c":17,"v":0},{"r":30,"c":18,"v":0},{"r":30,"c":19,"v":0},{"r":30,"c":20,"v":0},{"r":30,"c":21,"v":1},{"r":30,"c":22,"v":0},{"r":30,"c":23,"v":0},{"r":30,"c":24,"v":0},{"r":30,"c":25,"v":0},{"r":30,"c":26,"v":0},{"r":30,"c":27,"v":0},{"r":30,"c":28,"v":0},{"r":30,"c":29,"v":0},{"r":30,"c":30,"v":0},{"r":30,"c":31,"v":0},{"r":30,"c":32,"v":1},{"r":30,"c":33,"v":0},{"r":30,"c":34,"v":1},{"r":30,"c":35,"v":0},{"r":30,"c":36,"v":0},{"r":30,"c":37,"v":0},
{"r":31,"c":0,"v":1},{"r":31,"c":1,"v":0},{"r":31,"c":2,"v":0},{"r":31,"c":3,"v":0},{"r":31,"c":4,"v":1},{"r":31,"c":5,"v":0},{"r":31,"c":6,"v":1},{"r":31,"c":7,"v":0},{"r":31,"c":8,"v":0},{"r":31,"c":9,"v":0},{"r":31,"c":10,"v":1},{"r":31,"c":11,"v":0},{"r":31,"c":12,"v":1},{"r":31,"c":13,"v":1},{"r":31,"c":14,"v":1},{"r":31,"c":15,"v":0},{"r":31,"c":16,"v":0},{"r":31,"c":17,"v":0},{"r":31,"c":18,"v":0},{"r":31,"c":19,"v":0},{"r":31,"c":20,"v":1},{"r":31,"c":21,"v":0},{"r":31,"c":22,"v":1},{"r":31,"c":23,"v":0},{"r":31,"c":24,"v":0},{"r":31,"c":25,"v":0},{"r":31,"c":26,"v":0},{"r":31,"c":27,"v":0},{"r":31,"c":28,"v":0},{"r":31,"c":29,"v":0},{"r":31,"c":30,"v":1},{"r":31,"c":31,"v":0},{"r":31,"c":32,"v":0},{"r":31,"c":33,"v":0},{"r":31,"c":34,"v":0},{"r":31,"c":35,"v":0},{"r":31,"c":36,"v":0},{"r":31,"c":37,"v":0},
{"r":32,"c":0,"v":1},{"r":32,"c":1,"v":1},{"r":32,"c":2,"v":1},{"r":32,"c":3,"v":0},{"r":32,"c":4,"v":0},{"r":32,"c":5,"v":0},{"r":32,"c":6,"v":0},{"r":32,"c":7,"v":1},{"r":32,"c":8,"v":0},{"r":32,"c":9,"v":0},{"r":32,"c":10,"v":0},{"r":32,"c":11,"v":1},{"r":32,"c":12,"v":0},{"r":32,"c":13,"v":0},{"r":32,"c":14,"v":1},{"r":32,"c":15,"v":1},{"r":32,"c":16,"v":0},{"r":32,"c":17,"v":0},{"r":32,"c":18,"v":1},{"r":32,"c":19,"v":0},{"r":32,"c":20,"v":0},{"r":32,"c":21,"v":0},{"r":32,"c":22,"v":0},{"r":32,"c":23,"v":0},{"r":32,"c":24,"v":0},{"r":32,"c":25,"v":0},{"r":32,"c":26,"v":1},{"r":32,"c":27,"v":0},{"r":32,"c":28,"v":0},{"r":32,"c":29,"v":0},{"r":32,"c":30,"v":0},{"r":32,"c":31,"v":0},{"r":32,"c":32,"v":0},{"r":32,"c":33,"v":0},{"r":32,"c":34,"v":0},{"r":32,"c":35,"v":0},{"r":32,"c":36,"v":0},{"r":32,"c":37,"v":0},
{"r":33,"c":0,"v":1},{"r":33,"c":1,"v":1},{"r":33,"c":2,"v":0},{"r":33,"c":3,"v":1},{"r":33,"c":4,"v":0},{"r":33,"c":5,"v":1},{"r":33,"c":6,"v":1},{"r":33,"c":7,"v":0},{"r":33,"c":8,"v":0},{"r":33,"c":9,"v":1},{"r":33,"c":10,"v":0},{"r":33,"c":11,"v":0},{"r":33,"c":12,"v":0},{"r":33,"c":13,"v":0},{"r":33,"c":14,"v":0},{"r":33,"c":15,"v":0},{"r":33,"c":16,"v":0},{"r":33,"c":17,"v":0},{"r":33,"c":18,"v":1},{"r":33,"c":19,"v":0},{"r":33,"c":20,"v":0},{"r":33,"c":21,"v":0},{"r":33,"c":22,"v":1},{"r":33,"c":23,"v":0},{"r":33,"c":24,"v":0},{"r":33,"c":25,"v":0},{"r":33,"c":26,"v":0},{"r":33,"c":27,"v":0},{"r":33,"c":28,"v":0},{"r":33,"c":29,"v":0},{"r":33,"c":30,"v":0},{"r":33,"c":31,"v":0},{"r":33,"c":32,"v":1},{"r":33,"c":33,"v":0},{"r":33,"c":34,"v":0},{"r":33,"c":35,"v":0},{"r":33,"c":36,"v":0},{"r":33,"c":37,"v":0},
{"r":34,"c":0,"v":1},{"r":34,"c":1,"v":1},{"r":34,"c":2,"v":0},{"r":34,"c":3,"v":0},{"r":34,"c":4,"v":0},{"r":34,"c":5,"v":1},{"r":34,"c":6,"v":1},{"r":34,"c":7,"v":0},{"r":34,"c":8,"v":0},{"r":34,"c":9,"v":1},{"r":34,"c":10,"v":0},{"r":34,"c":11,"v":1},{"r":34,"c":12,"v":0},{"r":34,"c":13,"v":0},{"r":34,"c":14,"v":0},{"r":34,"c":15,"v":0},{"r":34,"c":16,"v":0},{"r":34,"c":17,"v":0},{"r":34,"c":18,"v":0},{"r":34,"c":19,"v":0},{"r":34,"c":20,"v":0},{"r":34,"c":21,"v":0},{"r":34,"c":22,"v":1},{"r":34,"c":23,"v":0},{"r":34,"c":24,"v":0},{"r":34,"c":25,"v":0},{"r":34,"c":26,"v":0},{"r":34,"c":27,"v":0},{"r":34,"c":28,"v":0},{"r":34,"c":29,"v":0},{"r":34,"c":30,"v":0},{"r":34,"c":31,"v":0},{"r":34,"c":32,"v":1},{"r":34,"c":33,"v":0},{"r":34,"c":34,"v":0},{"r":34,"c":35,"v":0},{"r":34,"c":36,"v":0},{"r":34,"c":37,"v":0},
{"r":35,"c":0,"v":1},{"r":35,"c":1,"v":0},{"r":35,"c":2,"v":1},{"r":35,"c":3,"v":1},{"r":35,"c":4,"v":0},{"r":35,"c":5,"v":0},{"r":35,"c":6,"v":0},{"r":35,"c":7,"v":0},{"r":35,"c":8,"v":1},{"r":35,"c":9,"v":0},{"r":35,"c":10,"v":0},{"r":35,"c":11,"v":0},{"r":35,"c":12,"v":0},{"r":35,"c":13,"v":0},{"r":35,"c":14,"v":0},{"r":35,"c":15,"v":0},{"r":35,"c":16,"v":0},{"r":35,"c":17,"v":0},{"r":35,"c":18,"v":0},{"r":35,"c":19,"v":0},{"r":35,"c":20,"v":0},{"r":35,"c":21,"v":0},{"r":35,"c":22,"v":0},{"r":35,"c":23,"v":0},{"r":35,"c":24,"v":0},{"r":35,"c":25,"v":1},{"r":35,"c":26,"v":1},{"r":35,"c":27,"v":0},{"r":35,"c":28,"v":1},{"r":35,"c":29,"v":0},{"r":35,"c":30,"v":0},{"r":35,"c":31,"v":0},{"r":35,"c":32,"v":0},{"r":35,"c":33,"v":0},{"r":35,"c":34,"v":0},{"r":35,"c":35,"v":0},{"r":35,"c":36,"v":0},{"r":35,"c":37,"v":0},
{"r":36,"c":0,"v":1},{"r":36,"c":1,"v":0},{"r":36,"c":2,"v":1},{"r":36,"c":3,"v":0},{"r":36,"c":4,"v":0},{"r":36,"c":5,"v":0},{"r":36,"c":6,"v":0},{"r":36,"c":7,"v":0},{"r":36,"c":8,"v":1},{"r":36,"c":9,"v":0},{"r":36,"c":10,"v":0},{"r":36,"c":11,"v":0},{"r":36,"c":12,"v":0},{"r":36,"c":13,"v":0},{"r":36,"c":14,"v":0},{"r":36,"c":15,"v":0},{"r":36,"c":16,"v":0},{"r":36,"c":17,"v":0},{"r":36,"c":18,"v":1},{"r":36,"c":19,"v":0},{"r":36,"c":20,"v":0},{"r":36,"c":21,"v":0},{"r":36,"c":22,"v":1},{"r":36,"c":23,"v":0},{"r":36,"c":24,"v":1},{"r":36,"c":25,"v":0},{"r":36,"c":26,"v":0},{"r":36,"c":27,"v":0},{"r":36,"c":28,"v":0},{"r":36,"c":29,"v":0},{"r":36,"c":30,"v":0},{"r":36,"c":31,"v":0},{"r":36,"c":32,"v":0},{"r":36,"c":33,"v":0},{"r":36,"c":34,"v":1},{"r":36,"c":35,"v":0},{"r":36,"c":36,"v":0},{"r":36,"c":37,"v":0},
{"r":37,"c":0,"v":0},{"r":37,"c":1,"v":0},{"r":37,"c":2,"v":1},{"r":37,"c":3,"v":1},{"r":37,"c":4,"v":0},{"r":37,"c":5,"v":0},{"r":37,"c":6,"v":1},{"r":37,"c":7,"v":1},{"r":37,"c":8,"v":0},{"r":37,"c":9,"v":0},{"r":37,"c":10,"v":0},{"r":37,"c":11,"v":0},{"r":37,"c":12,"v":1},{"r":37,"c":13,"v":0},{"r":37,"c":14,"v":0},{"r":37,"c":15,"v":0},{"r":37,"c":16,"v":0},{"r":37,"c":17,"v":0},{"r":37,"c":18,"v":0},{"r":37,"c":19,"v":0},{"r":37,"c":20,"v":0},{"r":37,"c":21,"v":0},{"r":37,"c":22,"v":0},{"r":37,"c":23,"v":0},{"r":37,"c":24,"v":1},{"r":37,"c":25,"v":0},{"r":37,"c":26,"v":0},{"r":37,"c":27,"v":0},{"r":37,"c":28,"v":0},{"r":37,"c":29,"v":0},{"r":37,"c":30,"v":0},{"r":37,"c":31,"v":0},{"r":37,"c":32,"v":0},{"r":37,"c":33,"v":1},{"r":37,"c":34,"v":0},{"r":37,"c":35,"v":0},{"r":37,"c":36,"v":0},{"r":37,"c":37,"v":0},
{"r":38,"c":0,"v":0},{"r":38,"c":1,"v":1},{"r":38,"c":2,"v":0},{"r":38,"c":3,"v":0},{"r":38,"c":4,"v":1},{"r":38,"c":5,"v":1},{"r":38,"c":6,"v":0},{"r":38,"c":7,"v":0},{"r":38,"c":8,"v":1},{"r":38,"c":9,"v":0},{"r":38,"c":10,"v":0},{"r":38,"c":11,"v":0},{"r":38,"c":12,"v":1},{"r":38,"c":13,"v":0},{"r":38,"c":14,"v":0},{"r":38,"c":15,"v":0},{"r":38,"c":16,"v":0},{"r":38,"c":17,"v":0},{"r":38,"c":18,"v":0},{"r":38,"c":19,"v":1},{"r":38,"c":20,"v":0},{"r":38,"c":21,"v":0},{"r":38,"c":22,"v":0},{"r":38,"c":23,"v":1},{"r":38,"c":24,"v":0},{"r":38,"c":25,"v":0},{"r":38,"c":26,"v":0},{"r":38,"c":27,"v":0},{"r":38,"c":28,"v":0},{"r":38,"c":29,"v":0},{"r":38,"c":30,"v":0},{"r":38,"c":31,"v":0},{"r":38,"c":32,"v":0},{"r":38,"c":33,"v":0},{"r":38,"c":34,"v":0},{"r":38,"c":35,"v":0},{"r":38,"c":36,"v":0},{"r":38,"c":37,"v":0},
{"r":39,"c":0,"v":1},{"r":39,"c":1,"v":1},{"r":39,"c":2,"v":1},{"r":39,"c":3,"v":0},{"r":39,"c":4,"v":0},{"r":39,"c":5,"v":0},{"r":39,"c":6,"v":0},{"r":39,"c":7,"v":1},{"r":39,"c":8,"v":0},{"r":39,"c":9,"v":0},{"r":39,"c":10,"v":0},{"r":39,"c":11,"v":0},{"r":39,"c":12,"v":0},{"r":39,"c":13,"v":0},{"r":39,"c":14,"v":0},{"r":39,"c":15,"v":0},{"r":39,"c":16,"v":0},{"r":39,"c":17,"v":0},{"r":39,"c":18,"v":0},{"r":39,"c":19,"v":0},{"r":39,"c":20,"v":0},{"r":39,"c":21,"v":0},{"r":39,"c":22,"v":0},{"r":39,"c":23,"v":0},{"r":39,"c":24,"v":0},{"r":39,"c":25,"v":0},{"r":39,"c":26,"v":0},{"r":39,"c":27,"v":0},{"r":39,"c":28,"v":0},{"r":39,"c":29,"v":0},{"r":39,"c":30,"v":0},{"r":39,"c":31,"v":0},{"r":39,"c":32,"v":0},{"r":39,"c":33,"v":0},{"r":39,"c":34,"v":0},{"r":39,"c":35,"v":0},{"r":39,"c":36,"v":0},{"r":39,"c":37,"v":0},
{"r":40,"c":0,"v":1},{"r":40,"c":1,"v":0},{"r":40,"c":2,"v":1},{"r":40,"c":3,"v":0},{"r":40,"c":4,"v":0},{"r":40,"c":5,"v":0},{"r":40,"c":6,"v":0},{"r":40,"c":7,"v":0},{"r":40,"c":8,"v":0},{"r":40,"c":9,"v":0},{"r":40,"c":10,"v":0},{"r":40,"c":11,"v":0},{"r":40,"c":12,"v":0},{"r":40,"c":13,"v":0},{"r":40,"c":14,"v":0},{"r":40,"c":15,"v":0},{"r":40,"c":16,"v":0},{"r":40,"c":17,"v":0},{"r":40,"c":18,"v":0},{"r":40,"c":19,"v":0},{"r":40,"c":20,"v":0},{"r":40,"c":21,"v":0},{"r":40,"c":22,"v":0},{"r":40,"c":23,"v":0},{"r":40,"c":24,"v":0},{"r":40,"c":25,"v":0},{"r":40,"c":26,"v":0},{"r":40,"c":27,"v":0},{"r":40,"c":28,"v":0},{"r":40,"c":29,"v":0},{"r":40,"c":30,"v":0},{"r":40,"c":31,"v":0},{"r":40,"c":32,"v":0},{"r":40,"c":33,"v":0},{"r":40,"c":34,"v":1},{"r":40,"c":35,"v":0},{"r":40,"c":36,"v":0},{"r":40,"c":37,"v":0},
{"r":41,"c":0,"v":1},{"r":41,"c":1,"v":0},{"r":41,"c":2,"v":0},{"r":41,"c":3,"v":1},{"r":41,"c":4,"v":0},{"r":41,"c":5,"v":0},{"r":41,"c":6,"v":0},{"r":41,"c":7,"v":1},{"r":41,"c":8,"v":0},{"r":41,"c":9,"v":0},{"r":41,"c":10,"v":0},{"r":41,"c":11,"v":0},{"r":41,"c":12,"v":0},{"r":41,"c":13,"v":0},{"r":41,"c":14,"v":0},{"r":41,"c":15,"v":0},{"r":41,"c":16,"v":0},{"r":41,"c":17,"v":0},{"r":41,"c":18,"v":0},{"r":41,"c":19,"v":0},{"r":41,"c":20,"v":0},{"r":41,"c":21,"v":0},{"r":41,"c":22,"v":0},{"r":41,"c":23,"v":0},{"r":41,"c":24,"v":0},{"r":41,"c":25,"v":0},{"r":41,"c":26,"v":0},{"r":41,"c":27,"v":0},{"r":41,"c":28,"v":0},{"r":41,"c":29,"v":0},{"r":41,"c":30,"v":0},{"r":41,"c":31,"v":0},{"r":41,"c":32,"v":0},{"r":41,"c":33,"v":0},{"r":41,"c":34,"v":0},{"r":41,"c":35,"v":0},{"r":41,"c":36,"v":0},{"r":41,"c":37,"v":0},
{"r":42,"c":0,"v":0},{"r":42,"c":1,"v":0},{"r":42,"c":2,"v":0},{"r":42,"c":3,"v":1},{"r":42,"c":4,"v":0},{"r":42,"c":5,"v":0},{"r":42,"c":6,"v":1},{"r":42,"c":7,"v":0},{"r":42,"c":8,"v":0},{"r":42,"c":9,"v":0},{"r":42,"c":10,"v":0},{"r":42,"c":11,"v":1},{"r":42,"c":12,"v":0},{"r":42,"c":13,"v":0},{"r":42,"c":14,"v":0},{"r":42,"c":15,"v":0},{"r":42,"c":16,"v":0},{"r":42,"c":17,"v":0},{"r":42,"c":18,"v":0},{"r":42,"c":19,"v":0},{"r":42,"c":20,"v":0},{"r":42,"c":21,"v":0},{"r":42,"c":22,"v":0},{"r":42,"c":23,"v":0},{"r":42,"c":24,"v":0},{"r":42,"c":25,"v":0},{"r":42,"c":26,"v":0},{"r":42,"c":27,"v":0},{"r":42,"c":28,"v":0},{"r":42,"c":29,"v":0},{"r":42,"c":30,"v":0},{"r":42,"c":31,"v":0},{"r":42,"c":32,"v":0},{"r":42,"c":33,"v":0},{"r":42,"c":34,"v":0},{"r":42,"c":35,"v":0},{"r":42,"c":36,"v":0},{"r":42,"c":37,"v":0},
{"r":43,"c":0,"v":1},{"r":43,"c":1,"v":0},{"r":43,"c":2,"v":0},{"r":43,"c":3,"v":0},{"r":43,"c":4,"v":0},{"r":43,"c":5,"v":0},{"r":43,"c":6,"v":0},{"r":43,"c":7,"v":0},{"r":43,"c":8,"v":0},{"r":43,"c":9,"v":0},{"r":43,"c":10,"v":0},{"r":43,"c":11,"v":0},{"r":43,"c":12,"v":0},{"r":43,"c":13,"v":0},{"r":43,"c":14,"v":0},{"r":43,"c":15,"v":0},{"r":43,"c":16,"v":0},{"r":43,"c":17,"v":0},{"r":43,"c":18,"v":0},{"r":43,"c":19,"v":0},{"r":43,"c":20,"v":0},{"r":43,"c":21,"v":0},{"r":43,"c":22,"v":0},{"r":43,"c":23,"v":0},{"r":43,"c":24,"v":0},{"r":43,"c":25,"v":0},{"r":43,"c":26,"v":0},{"r":43,"c":27,"v":0},{"r":43,"c":28,"v":0},{"r":43,"c":29,"v":0},{"r":43,"c":30,"v":0},{"r":43,"c":31,"v":0},{"r":43,"c":32,"v":0},{"r":43,"c":33,"v":1},{"r":43,"c":34,"v":0},{"r":43,"c":35,"v":0},{"r":43,"c":36,"v":0},{"r":43,"c":37,"v":0}
]
},
"hconcat":[
{"width":100,"height":1020,"data":{"name":"labels"},
 "resolve":{"scale":{"fill":"independent","color":"independent"}},
 "layer":[
  {"mark":{"type":"rect","stroke":"black","strokeWidth":1,"clip":true},
   "encoding":{
    "y":{"field":"r","type":"ordinal","scale":{"range":[0,1023.4],"paddingInner":0,"paddingOuter":0},"axis":null},
    "fill":{"field":"g","type":"nominal","scale":{"domain":["d","o"],"range":["#3b3b3b","#ffa52c"]},"legend":null}}},
  {"mark":{"type":"text","font":"DejaVu Sans","fontWeight":"bold","fontSize":18.5,"dy":2.5,"clip":true},
   "encoding":{
    "y":{"field":"r","type":"ordinal","axis":null},
    "text":{"field":"t","type":"nominal"},
    "color":{"field":"g","type":"nominal","scale":{"domain":["d","o"],"range":["#ffffff","#111111"]},"legend":null}}}
 ]},
{"width":872,"height":1020,"data":{"name":"cells"},
 "mark":{"type":"rect","stroke":"black","strokeWidth":1,"clip":true},
 "encoding":{
  "x":{"field":"c","type":"ordinal","scale":{"range":[0,885.4],"paddingInner":0,"paddingOuter":0},"axis":null},
  "y":{"field":"r","type":"ordinal","scale":{"range":[0,1023.4],"paddingInner":0,"paddingOuter":0},"axis":null},
  "fill":{"field":"v","type":"nominal","scale":{"domain":[0,1],"range":["#ffffff","#7f5bab"]},"legend":null}}}
]
}
